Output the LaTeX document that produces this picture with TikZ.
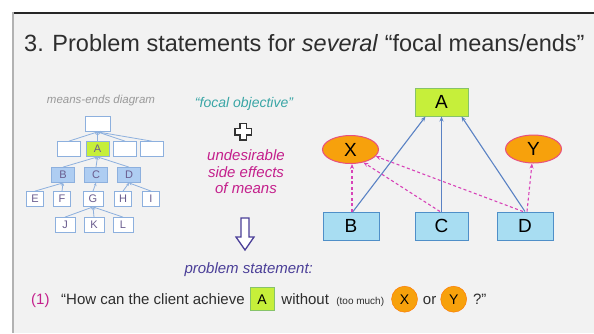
\documentclass[tikz,border=0pt]{standalone}
\usepackage{fontspec}
\setmainfont{Liberation Sans}
\usetikzlibrary{shapes.geometric,arrows.meta}
\definecolor{slidebg}{HTML}{F2F2F2}
\definecolor{limeA}{HTML}{C6EF3A}
\definecolor{limeborder}{HTML}{86C36A}
\definecolor{skyB}{HTML}{A8DDF2}
\definecolor{skyborder}{HTML}{4F8FC8}
\definecolor{orangeX}{HTML}{F7A10C}
\definecolor{pinkborder}{HTML}{E8507E}
\definecolor{linkblue}{HTML}{5A82C4}
\definecolor{sidemag}{HTML}{D843B8}
\definecolor{tealtxt}{HTML}{3AA6A6}
\definecolor{magtxt}{HTML}{C4208C}
\definecolor{navytxt}{HTML}{4B3F98}
\definecolor{treeline}{HTML}{8DB0DE}
\definecolor{treefill}{HTML}{AECDF2}
\definecolor{treetxt}{HTML}{6A5C8E}
\definecolor{bodytxt}{HTML}{2E2E2E}
\tikzset{>=stealth,
  tbox/.style={draw=treeline, fill=white, line width=0.8pt, minimum width=23pt, minimum height=15pt, inner sep=0pt, text=treetxt, font=\fontsize{11}{11}\selectfont},
  tlink/.style={draw=treeline, line width=0.8pt, -{Stealth[length=3pt,width=3pt]}},
  mbox/.style={draw=skyborder, fill=skyB, line width=1pt, minimum width=56pt, minimum height=28pt, inner sep=0pt, font=\fontsize{19}{19}\selectfont},
  abox/.style={mbox, draw=limeborder, fill=limeA, minimum width=53pt},
  side/.style={ellipse, draw=pinkborder, fill=orangeX, line width=1pt, minimum width=56pt, minimum height=28pt, inner sep=0pt, font=\fontsize{19}{19}\selectfont},
  means/.style={draw=linkblue, line width=1.1pt, -{Stealth[length=5pt,width=4pt]}},
  effect/.style={draw=sidemag, line width=1.1pt, dashed, dash pattern=on 3pt off 2.5pt, -{Stealth[length=5pt,width=4pt]}},
  say/.style={anchor=base west, inner sep=0pt, text=bodytxt, font=\fontsize{15}{15}\selectfont},
  ibox/.style={anchor=base west, draw=limeborder, fill=limeA, minimum width=24pt, minimum height=23pt, inner sep=0pt, font=\fontsize{14}{14}\selectfont},
  icirc/.style={anchor=base west, circle, draw=orange!90!red, fill=orangeX, minimum size=26pt, inner sep=0pt, font=\fontsize{14}{14}\selectfont}
}

\begin{document}
\begin{tikzpicture}[x=1pt, y=-1pt]
\useasboundingbox (0,0) rectangle (594,333);
\fill[white] (0,0) rectangle (594,333);
\fill[slidebg] (12,12) rectangle (594,333);
\draw[black!85, line width=2pt] (12,13) -- (594,13);
\draw[black!30, line width=2pt] (13,12) -- (13,333);

\node[anchor=base west, inner sep=0pt, text=bodytxt, font=\fontsize{23.5}{23.5}\selectfont] (title) at (24,51)
  {3. Problem statements for \textit{several} “focal means/ends”};

% means-ends diagram
\node[text=black!40, font=\itshape\fontsize{11.5}{11.5}\selectfont] (melabel) at (101,101) {means-ends diagram};
\node[tbox, minimum width=25pt] (top) at (97.5,124) {};
\node[tbox] (u1) at (69,149) {};
\node[tbox, fill=limeA] (a) at (97.5,149) {A};
\node[tbox] (u3) at (125,149) {};
\node[tbox] (u4) at (151.5,149) {};
\node[tbox, fill=treefill] (b) at (63,175) {B};
\node[tbox, fill=treefill] (c) at (96,175) {C};
\node[tbox, fill=treefill] (d) at (129,175) {D};
\node[tbox, minimum width=17pt] (e) at (35,199) {E};
\node[tbox, minimum width=17pt] (f) at (62,199) {F};
\node[tbox, minimum width=20pt] (g) at (93,199) {G};
\node[tbox, minimum width=17pt] (h) at (123,199) {H};
\node[tbox, minimum width=17pt] (i) at (151,199) {I};
\node[tbox, minimum width=20pt] (j) at (65,225) {J};
\node[tbox, minimum width=20pt] (k) at (94,225) {K};
\node[tbox, minimum width=20pt] (l) at (123,225) {L};
\foreach \n in {u1,a,u3,u4} \draw[tlink] (\n.north) -- (top.south);
\foreach \n in {b,c,d} \draw[tlink] (\n.north) -- (a.south);
\foreach \n in {e,f} \draw[tlink] (\n.north) -- (b.south);
\draw[tlink] (g.north) -- (c.south);
\foreach \n in {h,i} \draw[tlink] (\n.north) -- (d.south);
\foreach \n in {j,k,l} \draw[tlink] (\n.north) -- (g.south);

% middle column
\node[text=tealtxt, font=\itshape\fontsize{14}{14}\selectfont] (focal) at (244,104) {“focal objective”};
\draw[black!80, line width=1.3pt, fill=white] (240,123.5) -- (246.5,123.5) -- (246.5,128.5) -- (251.5,128.5) -- (251.5,135)
  -- (246.5,135) -- (246.5,140) -- (240,140) -- (240,135) -- (235,135) -- (235,128.5) -- (240,128.5) -- cycle;
\node[text=magtxt, align=center, font=\itshape\fontsize{15}{16.5}\selectfont] (undes) at (246,172)
  {undesirable\\side effects\\of means};
\draw[navytxt, line width=1.3pt, fill=white] (241,218) -- (249,218) -- (249,237) -- (254,237) -- (245,250)
  -- (236,237) -- (241,237) -- cycle;
\node[anchor=west, text=navytxt, font=\itshape\fontsize{15}{15}\selectfont] (probl) at (181,270) {problem statement:};

% focal means/ends
\node[abox] (A) at (441.5,102) {A};
\node[side] (X) at (350.5,149.5) {X};
\node[side] (Y) at (533.5,149) {Y};
\node[mbox] (B) at (351,226) {B};
\node[mbox, minimum width=53pt] (C) at (441.5,226) {C};
\node[mbox] (D) at (525,226) {D};
\draw[means] ([xshift=2pt]B.north) -- ([xshift=-16pt]A.south);
\draw[means] (C.north) -- (A.south);
\draw[means] (D.north) -- ([xshift=20pt]A.south);
\draw[effect] ([xshift=1pt]B.north) -- ([xshift=1.5pt]X.south);
\draw[effect] ([xshift=-1.5pt]C.north) -- (X.-45);
\draw[effect] ([xshift=-2pt]D.north) -- (X.-15);
\draw[effect] ([xshift=2pt]D.north) -- ([xshift=-1.5pt]Y.south);

% statement
\node[say, text=magtxt] (num) at (31,304) {(1)};
\node[say] (s1) at (61,304) {“How can the client achieve};
\node[ibox, xshift=5pt] (sa) at (s1.base east) {A};
\node[say, xshift=7pt] (s2) at (sa.base east) {without};
\node[say, xshift=7pt, font=\fontsize{10}{10}\selectfont] (s3) at (s2.base east) {(too much)};
\node[icirc, xshift=7pt] (sx) at (s3.base east) {X};
\node[say, xshift=5pt] (s4) at (sx.base east) {or};
\node[icirc, xshift=4pt] (sy) at (s4.base east) {Y};
\node[say, xshift=6pt] (s5) at (sy.base east) {?”};
\end{tikzpicture}
\end{document}
